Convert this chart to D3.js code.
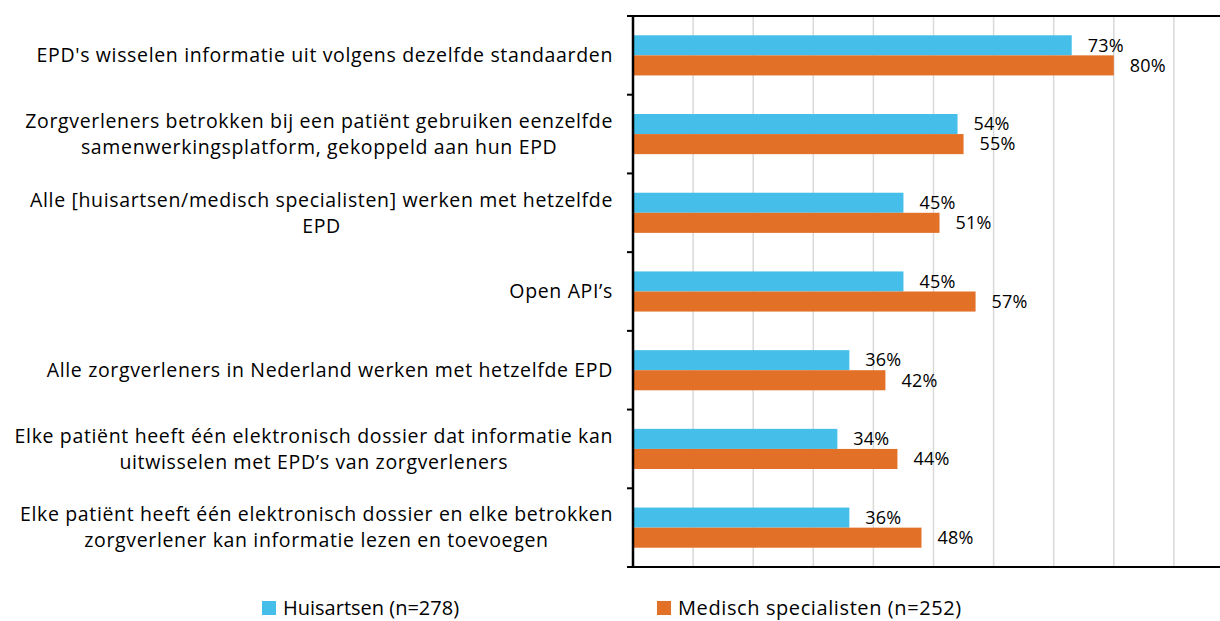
<!DOCTYPE html>
<html>
<head>
<meta charset="utf-8">
<script src="https://cdn.jsdelivr.net/npm/d3@7"></script>
<style>
  body { margin: 0; background: #fff; }
  text { font-family: "Open Sans", sans-serif; fill: #000; }
</style>
</head>
<body>
<div id="chart"></div>
<script>
let width = 1220;
let height = 621;

// categorieën (regels zoals in het origineel afgebroken)
const categories = [
    ["EPD's wisselen informatie uit volgens dezelfde standaarden"],
    ["Zorgverleners betrokken bij een patiënt gebruiken eenzelfde", "samenwerkingsplatform, gekoppeld aan hun EPD"],
    ["Alle [huisartsen/medisch specialisten] werken met hetzelfde", "EPD"],
    ["Open API’s"],
    ["Alle zorgverleners in Nederland werken met hetzelfde EPD"],
    ["Elke patiënt heeft één elektronisch dossier dat informatie kan", "uitwisselen met EPD’s van zorgverleners"],
    ["Elke patiënt heeft één elektronisch dossier en elke betrokken", "zorgverlener kan informatie lezen en toevoegen"]
];
const huisartsen = [73, 54, 45, 45, 36, 34, 36];
const specialisten = [80, 55, 51, 57, 42, 44, 48];
const seriesNames = ["Huisartsen (n=278)", "Medisch specialisten (n=252)"];
const colors = ["#45BFE9", "#E27027"];
const gridTicks = [10, 20, 30, 40, 50, 60, 70, 80, 90, 100];

const pLeft = 633, pTop = 16, pBottom = 567;

let svg = d3.select('#chart')
            .append('svg')
            .attr('width', width)
            .attr('height', height);

let x = d3.scaleLinear().domain([0, 100]).range([pLeft, pLeft + 601]);
let y = d3.scaleBand().domain(d3.range(categories.length)).range([pTop, pBottom]).paddingInner(0.49).paddingOuter(0.245);
let yTick = d3.scaleBand().domain(d3.range(categories.length)).range([pTop, pBottom]);

// rasterlijnen
svg.append('g')
    .selectAll('line')
    .data(gridTicks)
    .enter()
    .append('line')
    .attr('x1', d => x(d)).attr('x2', d => x(d))
    .attr('y1', pTop).attr('y2', pBottom)
    .attr('stroke', '#d9d9d9')
    .attr('stroke-width', 1.5);

// balken
let groups = svg.append('g')
    .selectAll('g')
    .data(categories.map((c, i) => [huisartsen[i], specialisten[i]]))
    .enter()
    .append('g')
    .attr('transform', (d, i) => `translate(0,${y(i)})`);

const bh = y.bandwidth() / 2;

groups.selectAll('rect')
    .data(d => d)
    .enter()
    .append('rect')
    .attr('x', x(0))
    .attr('y', (d, j) => j * bh)
    .attr('width', d => x(d) - x(0))
    .attr('height', bh)
    .attr('fill', (d, j) => colors[j]);

groups.selectAll('text')
    .data(d => d)
    .enter()
    .append('text')
    .attr('x', d => x(d) + 16)
    .attr('y', (d, j) => j * bh + bh / 2)
    .attr('dy', '0.35em')
    .style('font-size', '18px')
    .style('letter-spacing', '0.2px')
    .text(d => d + '%');

// assen
let yAxis = d3.axisLeft(yTick).tickSize(6).tickFormat('');
let ya = svg.append('g').attr('transform', `translate(${pLeft},0)`).call(yAxis);
ya.selectAll('.tick').attr('transform', (d) => `translate(0,${yTick(d)})`);
ya.append('line').attr('x1', 0).attr('x2', -6).attr('y1', pBottom).attr('y2', pBottom);
ya.selectAll('path').remove();
ya.selectAll('line').attr('stroke', '#000').attr('stroke-width', 2);

svg.append('line').attr('x1', pLeft).attr('x2', pLeft).attr('y1', pTop).attr('y2', pBottom)
    .attr('stroke', '#000').attr('stroke-width', 2.5);
svg.append('line').attr('x1', pLeft - 6).attr('x2', width).attr('y1', pTop).attr('y2', pTop)
    .attr('stroke', '#000').attr('stroke-width', 2);
svg.append('line').attr('x1', pLeft - 6).attr('x2', width).attr('y1', pBottom).attr('y2', pBottom)
    .attr('stroke', '#000').attr('stroke-width', 2);

// categorie labels: blok rechts uitgelijnd, regels gecentreerd
const lineH = 26;
categories.forEach(function(lines, i) {
    let cy = yTick(i) + yTick.bandwidth() / 2;
    let g = svg.append('g');
    let texts = g.selectAll('text')
        .data(lines)
        .enter()
        .append('text')
        .attr('y', (d, k) => cy + (k - (lines.length - 1) / 2) * lineH)
        .attr('dy', '0.35em')
        .attr('text-anchor', 'middle')
        .style('font-size', '19.5px')
        .style('letter-spacing', '0.65px')
        .text(d => d);
    let maxW = d3.max(texts.nodes(), n => n.getComputedTextLength());
    texts.attr('x', 613 - maxW / 2);
});

// legenda
const legendX = [262, 657];
let legend = svg.append('g')
    .selectAll('g')
    .data(seriesNames)
    .enter()
    .append('g')
    .attr('transform', (d, i) => `translate(${legendX[i]},601)`);
legend.append('rect')
    .attr('width', 14).attr('height', 14)
    .attr('fill', (d, i) => colors[i]);
legend.append('text')
    .attr('x', 21).attr('y', 7).attr('dy', '0.35em')
    .style('font-size', '20px')
    .style('letter-spacing', (d, i) => i ? '0.6px' : '0px')
    .text(d => d);
</script>
</body>
</html>
